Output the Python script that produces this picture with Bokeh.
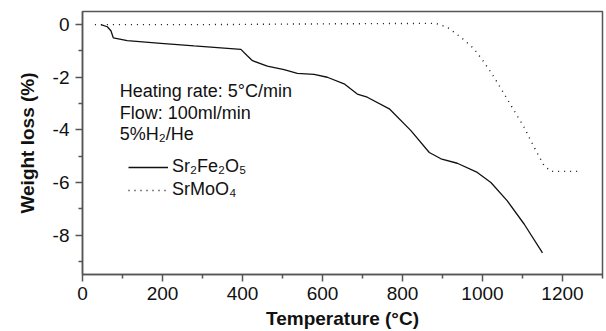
from bokeh.plotting import figure
from bokeh.models import FixedTicker, Range1d, Label, Legend, LegendItem
from bokeh.embed import file_html
from bokeh.resources import INLINE

# ---- data ----
fe_temp = [46, 62, 71, 77, 112, 196, 279, 396, 412, 425, 462, 504, 537, 579, 612,
           654, 687, 712, 767, 821, 867, 896, 937, 987, 1021, 1062, 1104, 1150]
fe_loss = [0, -0.08, -0.23, -0.5, -0.61, -0.71, -0.81, -0.94, -1.18, -1.37, -1.58, -1.71,
           -1.85, -1.89, -2.0, -2.25, -2.64, -2.76, -3.2, -4.03, -4.86, -5.1, -5.27, -5.62,
           -6.0, -6.7, -7.58, -8.68]

mo_temp = [31, 300, 600, 883, 912, 946, 979, 1004, 1029, 1054, 1079, 1104, 1129, 1154, 1171, 1237]
mo_loss = [0, 0, 0.03, 0.05, -0.1, -0.48, -0.92, -1.43, -2.0, -2.63, -3.27, -3.9, -4.66,
           -5.36, -5.58, -5.58]

x_major = [0, 200, 400, 600, 800, 1000, 1200]
x_minor = [100, 300, 500, 700, 900, 1100, 1300]
y_major = [-8, -6, -4, -2, 0]
y_minor = [-9, -7, -5, -3, -1]

series_names = ["Sr\u2082Fe\u2082O\u2085", "SrMoO\u2084"]
notes = ["Heating rate: 5\u00b0C/min", "Flow: 100ml/min", "5%H\u2082/He"]

FONT = "Liberation Sans"

p = figure(width=606, height=331, output_backend="svg", toolbar_location=None,
           x_range=Range1d(0, 1300), y_range=Range1d(-9.5, 0.5),
           min_border_left=82, min_border_right=4, min_border_top=11, min_border_bottom=0)

p.grid.visible = False
p.outline_line_color = "#555555"
p.outline_line_width = 1.5
p.background_fill_color = "white"
p.border_fill_color = "white"

fe = p.line(fe_temp, fe_loss, line_color="#111111", line_width=1.3)
mo = p.line(mo_temp, mo_loss, line_color="#111111", line_width=1.4, line_dash="1 5")

for ax in (p.xaxis[0], p.yaxis[0]):
    ax.axis_line_color = "#555555"
    ax.axis_line_width = 1.5
    ax.major_tick_line_color = "#555555"
    ax.minor_tick_line_color = "#555555"
    ax.major_tick_line_width = 1.5
    ax.minor_tick_line_width = 1.5
    ax.major_tick_in = 0
    ax.minor_tick_in = 0
    ax.major_tick_out = 7
    ax.minor_tick_out = 4
    ax.major_label_text_font = FONT
    ax.major_label_text_font_size = "19px"
    ax.major_label_text_color = "#111111"
    ax.axis_label_text_font = FONT
    ax.axis_label_text_font_size = "19px"
    ax.axis_label_text_font_style = "bold"
    ax.axis_label_text_color = "#111111"

p.xaxis[0].ticker = FixedTicker(ticks=x_major, minor_ticks=x_minor)
p.yaxis[0].ticker = FixedTicker(ticks=y_major, minor_ticks=y_minor)
p.yaxis[0].major_label_overrides = {v: str(v) for v in y_major}
p.xaxis[0].axis_label = "Temperature (\u00b0C)"
p.yaxis[0].axis_label = "Weight loss (%)"
p.xaxis[0].major_label_standoff = 5
p.xaxis[0].axis_label_standoff = 5
p.yaxis[0].major_label_standoff = 6
p.yaxis[0].axis_label_standoff = 12

# annotation text
note_y = [-2.53, -3.35, -4.17]
for txt, yy in zip(notes, note_y):
    p.add_layout(Label(x=93, y=yy, text=txt, text_font=FONT, text_font_size="18px",
                       text_color="#111111", text_baseline="alphabetic"))

legend = Legend(items=[LegendItem(label=series_names[0], renderers=[fe]),
                       LegendItem(label=series_names[1], renderers=[mo])],
                location=(46, 74), orientation="vertical",
                glyph_width=40, glyph_height=20, label_height=20, label_standoff=4,
                spacing=2, padding=0, margin=0,
                border_line_color=None, background_fill_alpha=0,
                label_text_font=FONT, label_text_font_size="18px", label_text_color="#111111")
p.add_layout(legend, "center")

open("out.html", "w").write(file_html(p, INLINE))
